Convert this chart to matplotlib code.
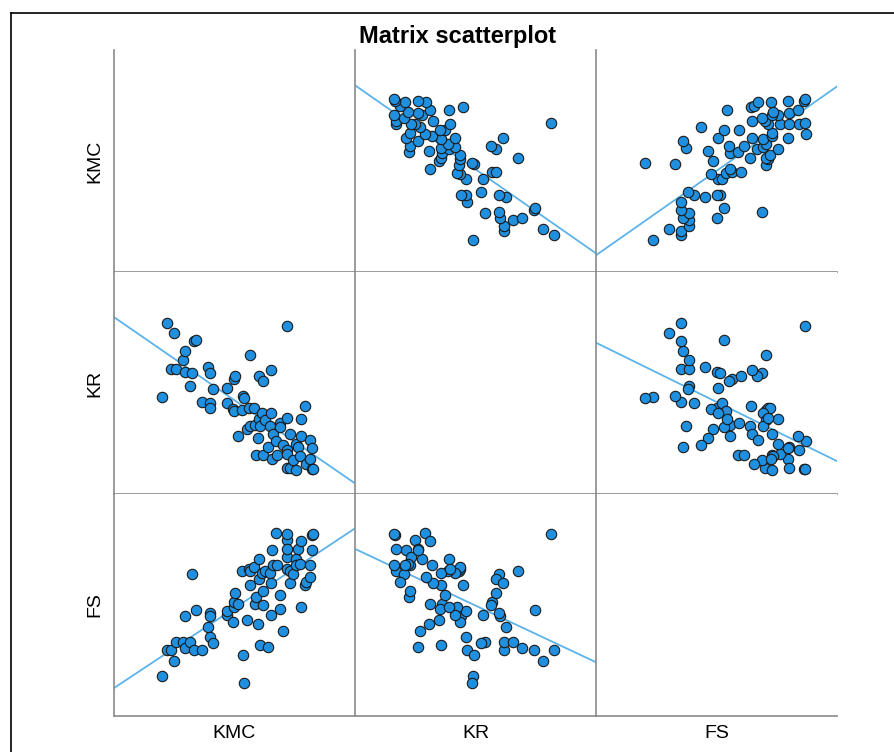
import numpy as np
import matplotlib
matplotlib.use('Agg')
import matplotlib.pyplot as plt
from matplotlib.lines import Line2D

# values (one entry per case)
kmc = [2.01, 2.10, 2.18, 2.24, 2.29, 2.43, 2.46, 2.47, 2.57, 2.59,
       2.63, 2.67, 2.80, 2.91, 2.95, 2.95, 2.96, 3.02, 3.29, 3.29,
       3.40, 3.42, 3.43, 3.45, 3.51, 3.58, 3.61, 3.63, 3.68, 3.71,
       3.73, 3.73, 3.81, 3.84, 3.86, 3.89, 3.92, 3.92, 3.94, 3.98,
       4.00, 4.00, 4.03, 4.10, 4.13, 4.15, 4.15, 4.17, 4.20, 4.25,
       4.26, 4.33, 4.33, 4.39, 4.46, 4.46, 4.46, 4.46, 4.47, 4.52,
       4.52, 4.59, 4.65, 4.65, 4.69, 4.72, 4.75, 4.75, 4.82, 4.83,
       4.92, 4.92, 4.95, 4.95, 4.98]
kr = [2.73, 4.50, 3.41, 4.27, 3.41, 3.61, 3.82, 3.33, 3.00, 3.31,
      4.07, 4.09, 2.61, 3.45, 3.31, 2.58, 2.48, 2.92, 2.96, 2.59,
      2.44, 2.39, 3.16, 3.24, 1.80, 2.42, 2.75, 2.72, 1.98, 2.46,
      3.73, 2.04, 2.46, 2.06, 1.34, 1.76, 3.23, 2.22, 2.04, 2.35,
      3.12, 1.36, 2.18, 1.54, 2.04, 3.39, 2.35, 1.26, 1.84, 1.68,
      1.36, 2.12, 2.02, 1.58, 2.23, 1.46, 1.38, 1.05, 4.44, 1.86,
      1.04, 1.22, 1.62, 1.00, 1.54, 1.32, 2.22, 1.80, 2.51, 1.14,
      1.70, 1.25, 1.52, 1.02, 1.01]
fs = [1.68, 2.28, 2.28, 2.03, 2.47, 2.47, 2.32, 3.06, 2.46, 4.04,
      2.28, 3.22, 2.28, 2.81, 3.14, 2.57, 3.06, 2.44, 3.09, 3.18,
      2.94, 3.27, 3.39, 3.60, 3.35, 4.13, 2.16, 1.50, 2.98, 4.17,
      4.13, 3.79, 4.22, 3.35, 3.52, 2.88, 3.93, 4.39, 2.40, 4.07,
      3.33, 3.66, 4.13, 2.34, 4.07, 3.83, 3.09, 4.62, 4.27, 5.00,
      4.27, 3.55, 3.23, 2.73, 4.17, 4.85, 4.44, 4.63, 4.98, 3.83,
      4.11, 4.05, 4.40, 4.26, 4.63, 4.28, 3.29, 4.83, 3.80, 3.87,
      3.97, 4.25, 4.61, 4.97, 4.99]

names = ['KMC', 'KR', 'FS']
data = {'KMC': np.array(kmc), 'KR': np.array(kr), 'FS': np.array(fs)}

# axis ranges (horizontal / vertical) per variable
xlims = {'KMC': (1.067, 5.802), 'KR': (0.149, 5.431), 'FS': (0.439, 5.678)}
ylims = {'KMC': (1.322, 6.024), 'KR': (0.419, 5.717), 'FS': (0.738, 5.918)}

plt.rcParams['font.family'] = ['Liberation Sans', 'DejaVu Sans']

W, H = 895, 752
fig = plt.figure(figsize=(W / 100, H / 100), dpi=100)

# panel grid in pixels
x0, y0, pw, ph = 114, 50, 241, 222
for r, rv in enumerate(names):
    for c, cv in enumerate(names):
        ax = fig.add_axes([(x0 + c * pw) / W, 1 - (y0 + (r + 1) * ph) / H, pw / W, ph / H])
        ax.set_xticks([])
        ax.set_yticks([])
        for s in ['top', 'right']:
            ax.spines[s].set_visible(False)
        for s in ['left', 'bottom']:
            ax.spines[s].set_color('#8a8a8a')
            ax.spines[s].set_linewidth(1.2)
        ax.set_xlim(xlims[cv])
        ax.set_ylim(ylims[rv])
        if r == c:
            continue
        xs, ys = data[cv], data[rv]
        # fit line across the whole panel
        b, a = np.polyfit(xs, ys, 1)
        lx = np.array(xlims[cv])
        ax.plot(lx, a + b * lx, color='#5cb3ea', lw=1.3, zorder=1)
        ax.scatter(xs, ys, s=56, c='#1f8fe0', edgecolors='#1a1a1a', linewidths=0.8, zorder=2)

for k, v in enumerate(names):
    fig.text(95 / W, 1 - (y0 + (k + 0.5) * ph) / H, v, rotation=90,
             ha='center', va='center', fontsize=14)
    fig.text((x0 + (k + 0.5) * pw) / W, 1 - 733 / H, v,
             ha='center', va='center', fontsize=14)

fig.text(458 / W, 1 - 36 / H, 'Matrix scatterplot', ha='center', va='center',
         fontsize=17, fontweight='bold')

# outer frame (left and top edges visible)
fig.add_artist(Line2D([11.5 / W, 11.5 / W], [0, 1 - 13.3 / H], color='black', lw=1.2))
fig.add_artist(Line2D([11.5 / W, 1], [1 - 13.3 / H, 1 - 13.3 / H], color='black', lw=1.2))

fig.savefig('out.png', dpi=100)
